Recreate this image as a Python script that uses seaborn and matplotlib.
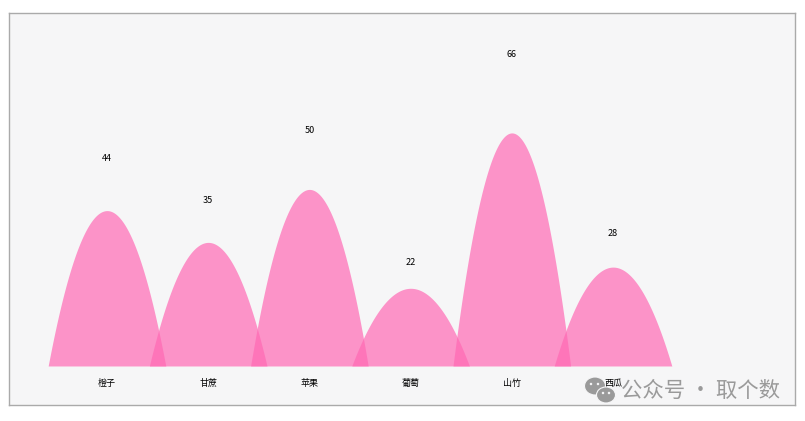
import numpy as np
import pandas as pd
import matplotlib.pyplot as plt
from matplotlib.patches import Ellipse
import seaborn as sns

# ── Chart data ─────────────────────────────────────────
fruits = ["橙子", "甘蔗", "苹果", "葡萄", "山竹", "西瓜"]
sales = [44, 35, 50, 22, 66, 28]

df = pd.DataFrame({"fruit": fruits, "sales": sales})

# ── Style ──────────────────────────────────────────────
sns.set_theme(style="white")
plt.rcParams["font.family"] = ["Noto Sans CJK SC", "DejaVu Sans"]

panel_color = "#f6f6f7"
hump_color = "#ff69b4"
label_ratio = 1.335   # value labels float above the peaks
shape_power = 2.0     # roundness of the hump outline

fig = plt.figure(figsize=(8.05, 4.21), dpi=100, facecolor="white")
ax = fig.add_axes([8.5 / 805, 1 - 405 / 421, 786.5 / 805, 392.5 / 421])
ax.set_facecolor(panel_color)

# ── Bars give the positions, humps replace them ────────
sns.barplot(data=df, x="fruit", y="sales", width=1.162, ax=ax, color=hump_color)

t = np.linspace(-1, 1, 201)
for bar in list(ax.patches):
    x0, w, h = bar.get_x(), bar.get_width(), bar.get_height()
    xs = x0 + (t + 1) / 2 * w
    ax.fill_between(xs, 0, h * (1 - np.abs(t) ** shape_power),
                    color=hump_color, alpha=0.7, linewidth=0)
    bar.set_visible(False)

for i, v in enumerate(sales):
    ax.text(i, v * label_ratio, str(v), ha="center", va="center", fontsize=6.5, color="black")

# ── Axes ───────────────────────────────────────────────
ax.set_xlim(-0.973, 6.798)
ax.set_ylim(-11.05, 100.1)
ax.set_xlabel("")
ax.set_ylabel("")
ax.set_yticks([])
ax.tick_params(axis="x", length=0, pad=-19, labelsize=6.5, labelcolor="black")
for spine in ax.spines.values():
    spine.set_color("#aaaaaa")
    spine.set_linewidth(1)

# ── Watermark ──────────────────────────────────────────
fig.text(621 / 805, 1 - 391 / 421, "公众号 · 取个数", fontsize=15.4, color="#9a9a9a",
         ha="left", va="center")
for cx, cy, ew, eh in [(595, 386, 21, 18), (606, 395, 19, 16)]:
    fig.add_artist(Ellipse((cx / 805, 1 - cy / 421), ew / 805, eh / 421,
                           transform=fig.transFigure, facecolor="#9a9a9a",
                           edgecolor=panel_color, linewidth=0.8))
for cx, cy in [(591, 384), (598, 384), (603, 393), (609, 393)]:
    fig.add_artist(Ellipse((cx / 805, 1 - cy / 421), 2.5 / 805, 2.5 / 421,
                           transform=fig.transFigure, facecolor=panel_color, linewidth=0))

fig.savefig("out.png", dpi=100)
